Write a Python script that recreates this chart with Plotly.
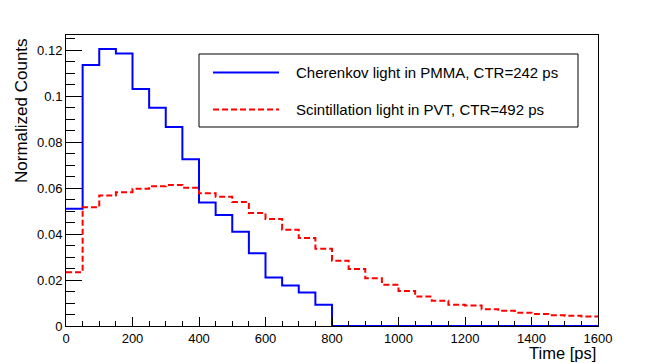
import plotly.graph_objects as go

# bin edges 0..1600 ps, 50 ps wide
bin_edges = list(range(0, 1650, 50))

cherenkov = [0.0510, 0.1135, 0.1205, 0.1186, 0.1031, 0.0949, 0.0866, 0.0725,
             0.0537, 0.0483, 0.0410, 0.0316, 0.0211, 0.0176, 0.0146, 0.0092,
             0, 0, 0, 0, 0, 0, 0, 0,
             0, 0, 0, 0, 0, 0, 0, 0]

scintillation = [0.0234, 0.0517, 0.0568, 0.0582, 0.0597, 0.0608, 0.0613, 0.0601,
                 0.0578, 0.0562, 0.0539, 0.0492, 0.0466, 0.0419, 0.0383, 0.0336,
                 0.0284, 0.0248, 0.0208, 0.0180, 0.0152, 0.0128, 0.0110, 0.0092,
                 0.0089, 0.0073, 0.0066, 0.0058, 0.0052, 0.0047, 0.0045, 0.0041]

legend_labels = ["Cherenkov light in PMMA, CTR=242 ps",
                 "Scintillation light in PVT, CTR=492 ps"]

x_ticks = [0, 200, 400, 600, 800, 1000, 1200, 1400, 1600]
y_ticks = [0, 0.02, 0.04, 0.06, 0.08, 0.1, 0.12]
y_tick_text = ["0", "0.02", "0.04", "0.06", "0.08", "0.1", "0.12"]

FONT = "Liberation Sans, Arial, sans-serif"

# the page body adds an 8px offset, so margins are shifted to compensate
OFF = 8


def step_trace(values, color, dash):
    # hv steps: one point per bin left edge plus the closing right edge
    return go.Scatter(x=bin_edges, y=values + [values[-1]], mode="lines",
                      line=dict(shape="hv", color=color, width=2, dash=dash),
                      hoverinfo="skip", showlegend=False)


fig = go.Figure()
fig.add_trace(step_trace(cherenkov, "rgb(0,0,255)", "solid"))
fig.add_trace(step_trace(scintillation, "rgb(255,0,0)", "6px,3px"))

fig.update_layout(
    width=664, height=363,
    margin=dict(l=66 - OFF, r=66 + OFF, t=35 - OFF, b=37 + OFF),
    paper_bgcolor="white", plot_bgcolor="white",
    font=dict(family=FONT, size=13, color="black"),
    showlegend=False,
)

fig.update_xaxes(
    range=[0, 1600], tickvals=x_ticks, showgrid=False, zeroline=False,
    showline=True, linecolor="black", linewidth=1, mirror=True,
    ticks="inside", ticklen=9, tickcolor="black",
    minor=dict(dtick=50, ticks="inside", ticklen=5, tickcolor="black"),
    tickfont=dict(size=13),
)
fig.update_yaxes(
    range=[0, 0.1266], tickvals=y_ticks, ticktext=y_tick_text,
    showgrid=False, zeroline=False,
    showline=True, linecolor="black", linewidth=1, mirror=True,
    ticks="inside", ticklen=16, tickcolor="black",
    minor=dict(dtick=0.005, ticks="inside", ticklen=9, tickcolor="black"),
    tickfont=dict(size=13),
)

# axis titles, ROOT style (aligned to the axis ends)
fig.add_annotation(text="Time [ps]", xref="paper", yref="paper", x=1, y=0,
                   xanchor="right", yanchor="top", yshift=-16, showarrow=False,
                   font=dict(size=16.5))
fig.add_annotation(text="Normalized Counts", xref="paper", yref="paper", x=0, y=1,
                   xanchor="right", yanchor="top", xshift=-33, yshift=-1, textangle=-90,
                   showarrow=False, font=dict(size=17))


# legend box drawn by hand (positions in screen pixels of the frame)
def px_x(p):
    return (p - 66) / 532


def px_y(p):
    return (326 - p) / 291


fig.add_shape(type="rect", xref="paper", yref="paper",
              x0=px_x(199), x1=px_x(578), y0=px_y(127), y1=px_y(54),
              line=dict(color="black", width=1), fillcolor="white")
entries = [(legend_labels[0], "rgb(0,0,255)", "solid", 72.5),
           (legend_labels[1], "rgb(255,0,0)", "6px,3px", 109.5)]
for label, color, dash, yp in entries:
    fig.add_shape(type="line", xref="paper", yref="paper",
                  x0=px_x(213), x1=px_x(279), y0=px_y(yp), y1=px_y(yp),
                  line=dict(color=color, width=2, dash=dash))
    fig.add_annotation(text=label, xref="paper", yref="paper",
                       x=px_x(294), y=px_y(yp), xanchor="left", yanchor="middle",
                       showarrow=False, font=dict(size=15))

fig.write_html("out.html")
